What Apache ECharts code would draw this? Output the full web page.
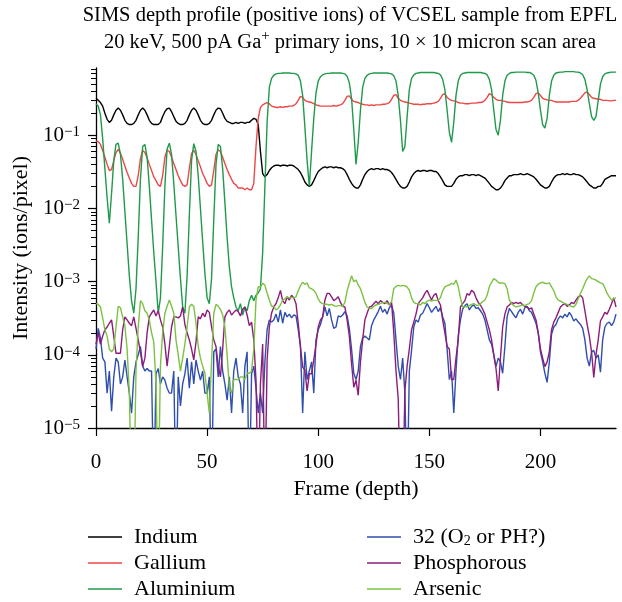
<!DOCTYPE html>
<html><head><meta charset="utf-8">
<script src="https://cdn.jsdelivr.net/npm/echarts@6/dist/echarts.min.js"></script>
<style>html,body{margin:0;padding:0;background:#fff}#c{width:622px;height:602px}</style>
</head><body><div id="c"></div>
<script>
// ---- data (frame index = position in array, 0..234) ----
const indium = [
0.32,0.30,0.28,0.25,0.20,0.165,0.15,0.16,0.19,0.22,
0.235,0.22,0.19,0.16,0.145,0.14,0.14,0.145,0.16,0.19,
0.22,0.235,0.22,0.19,0.16,0.145,0.14,0.14,0.14,0.15,
0.18,0.21,0.23,0.235,0.21,0.18,0.155,0.145,0.14,0.14,
0.145,0.16,0.19,0.22,0.235,0.22,0.19,0.16,0.145,0.14,
0.14,0.145,0.16,0.19,0.22,0.235,0.23,0.20,0.17,0.155,
0.15,0.145,0.145,0.15,0.145,0.15,0.15,0.145,0.15,0.15,
0.16,0.17,0.165,0.14,0.06,0.03,0.027,0.029,0.033,0.036,
0.038,0.039,0.039,0.038,0.039,0.039,0.038,0.039,0.039,0.038,
0.036,0.034,0.031,0.027,0.023,0.021,0.020,0.021,0.024,0.028,
0.032,0.034,0.036,0.037,0.036,0.037,0.037,0.036,0.037,0.036,
0.036,0.035,0.033,0.029,0.025,0.022,0.020,0.019,0.019,0.021,
0.025,0.029,0.032,0.034,0.035,0.034,0.035,0.035,0.034,0.035,
0.034,0.034,0.033,0.031,0.028,0.025,0.022,0.020,0.019,0.019,
0.020,0.023,0.027,0.030,0.032,0.033,0.032,0.033,0.033,0.032,
0.033,0.033,0.032,0.032,0.030,0.027,0.024,0.021,0.020,0.020,
0.020,0.022,0.025,0.027,0.028,0.028,0.029,0.029,0.028,0.029,
0.029,0.028,0.029,0.028,0.027,0.026,0.024,0.022,0.020,0.019,
0.018,0.018,0.019,0.021,0.024,0.026,0.028,0.028,0.029,0.029,
0.029,0.030,0.029,0.029,0.030,0.029,0.028,0.027,0.025,0.023,
0.021,0.020,0.019,0.019,0.020,0.023,0.026,0.028,0.029,0.029,
0.030,0.029,0.030,0.029,0.029,0.030,0.029,0.029,0.028,0.027,
0.025,0.023,0.021,0.020,0.019,0.019,0.020,0.020,0.022,0.025,
0.026,0.027,0.028,0.028,0.028];

const gallium = [
0.083,0.082,0.075,0.062,0.05,0.04,0.033,0.034,0.045,0.058,
0.064,0.057,0.047,0.038,0.031,0.026,0.022,0.020,0.020,0.028,
0.048,0.062,0.058,0.049,0.040,0.033,0.027,0.024,0.021,0.020,
0.028,0.050,0.063,0.060,0.050,0.041,0.034,0.028,0.024,0.021,
0.020,0.021,0.035,0.056,0.062,0.055,0.045,0.037,0.030,0.026,
0.022,0.020,0.021,0.033,0.055,0.063,0.060,0.050,0.041,0.034,
0.029,0.025,0.022,0.021,0.019,0.019,0.019,0.018,0.019,0.018,
0.018,0.022,0.07,0.17,0.24,0.26,0.27,0.28,0.27,0.25,
0.245,0.24,0.24,0.245,0.24,0.245,0.245,0.25,0.25,0.255,
0.27,0.30,0.34,0.33,0.30,0.29,0.285,0.28,0.27,0.26,
0.255,0.25,0.25,0.25,0.25,0.25,0.25,0.255,0.25,0.255,
0.26,0.27,0.30,0.34,0.345,0.31,0.29,0.285,0.28,0.27,
0.265,0.26,0.26,0.255,0.26,0.255,0.26,0.26,0.26,0.265,
0.265,0.27,0.28,0.31,0.35,0.36,0.32,0.30,0.29,0.285,
0.28,0.275,0.27,0.265,0.265,0.265,0.26,0.265,0.265,0.27,
0.27,0.27,0.275,0.28,0.29,0.32,0.36,0.37,0.33,0.31,
0.30,0.295,0.29,0.28,0.275,0.275,0.27,0.27,0.27,0.275,
0.275,0.275,0.28,0.28,0.285,0.30,0.33,0.37,0.36,0.33,
0.31,0.30,0.30,0.295,0.29,0.285,0.28,0.28,0.28,0.28,
0.28,0.28,0.28,0.285,0.285,0.29,0.30,0.33,0.37,0.38,
0.35,0.32,0.31,0.305,0.30,0.30,0.29,0.285,0.285,0.285,
0.285,0.285,0.285,0.285,0.29,0.29,0.29,0.30,0.32,0.35,
0.38,0.39,0.36,0.33,0.32,0.315,0.31,0.31,0.30,0.30,
0.30,0.295,0.295,0.30,0.30];

const aluminium = [
0.27,0.25,0.19,0.09,0.035,0.014,0.0063,0.016,0.045,0.075,
0.078,0.055,0.025,0.009,0.0033,0.0012,5.5e-4,3.7e-4,8e-4,0.004,
0.025,0.07,0.075,0.05,0.02,0.007,0.0025,0.001,3.7e-4,6e-4,
0.003,0.02,0.065,0.078,0.055,0.022,0.008,0.003,0.0011,4.5e-4,
3.7e-4,0.0012,0.008,0.045,0.077,0.06,0.028,0.01,0.0035,0.0013,
6e-4,5e-4,0.0011,0.007,0.04,0.075,0.07,0.035,0.012,0.004,
0.0016,8.5e-4,6e-4,4.5e-4,4e-4,5e-4,3.5e-4,4.5e-4,4e-4,5.5e-4,
6.5e-4,5.5e-4,6.5e-4,7e-4,8e-4,0.0025,0.02,0.15,0.45,0.6,
0.66,0.69,0.70,0.70,0.71,0.71,0.71,0.71,0.70,0.70,
0.69,0.66,0.55,0.35,0.13,0.045,0.02,0.06,0.17,0.38,
0.55,0.63,0.67,0.69,0.70,0.70,0.71,0.71,0.71,0.71,
0.71,0.70,0.69,0.64,0.52,0.32,0.12,0.04,0.08,0.22,
0.45,0.60,0.66,0.69,0.70,0.71,0.71,0.71,0.71,0.71,
0.71,0.71,0.70,0.69,0.65,0.55,0.35,0.16,0.06,0.07,
0.18,0.42,0.6,0.67,0.70,0.71,0.72,0.72,0.72,0.72,
0.72,0.72,0.72,0.71,0.70,0.67,0.58,0.42,0.22,0.11,
0.08,0.15,0.35,0.55,0.66,0.70,0.71,0.72,0.72,0.72,
0.72,0.72,0.72,0.72,0.71,0.70,0.67,0.58,0.42,0.22,
0.12,0.10,0.16,0.35,0.55,0.66,0.70,0.72,0.72,0.73,
0.73,0.73,0.73,0.73,0.72,0.72,0.70,0.66,0.56,0.38,
0.22,0.14,0.125,0.17,0.35,0.55,0.66,0.71,0.72,0.73,
0.73,0.74,0.74,0.74,0.74,0.74,0.73,0.73,0.71,0.67,
0.58,0.42,0.27,0.18,0.16,0.18,0.3,0.5,0.63,0.69,
0.71,0.72,0.73,0.73,0.73];

const mass32 = [
1.2e-4,2.3e-4,1.7e-4,9e-5,8e-5,3e-5,6e-5,1.7e-5,5e-5,9e-5,
8e-5,4e-5,5e-5,8.5e-5,5e-5,3e-5,1.6e-5,5e-5,8e-5,1.0e-4,
1.3e-4,7e-5,6e-5,6.5e-5,6e-5,6e-5,1e-6,5.5e-5,6.5e-5,4e-5,
5e-5,4.5e-5,3.5e-5,3e-5,3e-5,6e-5,1e-6,5e-5,2e-5,4e-5,
5.5e-5,9e-5,3.5e-5,8e-5,4e-5,8.5e-5,6e-5,4.5e-5,6e-5,3e-5,
3e-5,5e-5,1e-6,1.1e-4,1.2e-4,5e-5,1.3e-4,6e-5,4e-5,2.4e-5,
5e-5,1.6e-5,6e-5,9e-5,5e-5,4e-5,1.6e-5,7e-5,1.1e-4,1e-6,
5.5e-5,7e-5,3.5e-5,1.6e-5,3e-5,1.6e-5,8e-5,2.2e-4,3e-4,2.8e-4,
3.0e-4,3.6e-4,2.8e-4,4.1e-4,2.7e-4,3.8e-4,3.3e-4,3.6e-4,3.2e-4,3.5e-4,
3.4e-4,2.2e-4,1.3e-4,1.6e-5,1.1e-4,4.6e-5,6e-5,8e-5,3e-5,1.6e-4,
2.2e-4,2.6e-4,3.3e-4,4.5e-4,3.4e-4,4.3e-4,3e-4,2.3e-4,2.4e-4,3.4e-4,
3.3e-4,3.5e-4,3.9e-4,3.4e-4,2.3e-4,1.2e-4,5.6e-5,4.6e-5,6e-5,1.3e-4,
1.7e-4,1.8e-4,1.7e-4,1.6e-4,2.5e-4,3.0e-4,3.4e-4,3.9e-4,4.6e-4,3.8e-4,
4.2e-4,3.6e-4,4.4e-4,4.8e-4,3.7e-4,1.6e-4,7e-5,4.6e-5,9e-5,3e-5,
1e-6,6e-5,1.15e-4,2.4e-4,3e-4,2.8e-4,3.5e-4,3.7e-4,4.3e-4,5e-4,
4.4e-4,3.8e-4,4.2e-4,4.6e-4,3.9e-4,4.4e-4,3.3e-4,2.7e-4,1.2e-4,4.6e-5,
6e-5,1.6e-5,6e-5,1.8e-4,3e-4,4.2e-4,4.7e-4,5e-4,4.1e-4,4.6e-4,
4.8e-4,4.3e-4,4.4e-4,4.0e-4,3.6e-4,3e-4,2.2e-4,1.6e-4,1.4e-4,1e-4,
6.9e-5,9e-5,8e-5,5.6e-5,1.3e-4,3.3e-4,4.3e-4,3.9e-4,3.5e-4,3.2e-4,
3.8e-4,4.2e-4,3.6e-4,4.4e-4,4.6e-4,4.0e-4,3.8e-4,3.2e-4,2.7e-4,2.0e-4,
1.1e-4,8e-5,5.6e-5,4.2e-5,8e-5,1.9e-4,2.4e-4,2.6e-4,3.1e-4,3.4e-4,
3.2e-4,3.6e-4,3.3e-4,3.8e-4,3.4e-4,2.9e-4,3.1e-4,2.8e-4,2.6e-4,2.3e-4,
1.6e-4,9e-5,7e-5,1.1e-4,1.15e-4,9e-5,1.0e-4,5.8e-5,1.6e-4,2.4e-4,
2.7e-4,2.8e-4,2.5e-4,2.8e-4,3.6e-4];

const phosphorous = [
1.4e-4,2.0e-4,1.4e-4,1.8e-4,2.2e-4,2.4e-4,2.7e-4,3.0e-4,1.8e-4,1.05e-4,
1.05e-4,1.05e-4,2.2e-4,3.3e-4,3.0e-4,2.7e-4,2.5e-4,3.3e-4,2.3e-4,1.6e-4,
1.1e-4,6.9e-5,9e-5,2.0e-4,3.3e-4,3.7e-4,4.1e-4,3.4e-4,4.0e-4,3.0e-4,
2.4e-4,1.4e-4,7e-5,1.3e-4,2.4e-4,3.3e-4,3.3e-4,3.2e-4,3.4e-4,4.5e-4,
2.6e-4,2.0e-4,1.6e-4,1.2e-4,8.5e-5,1.5e-4,3.3e-4,3.1e-4,3.7e-4,3.3e-4,
4.1e-4,3.8e-4,2.4e-4,1.6e-4,1.3e-4,7e-5,5e-5,1.2e-4,3.3e-4,3.8e-4,
4.1e-4,3.5e-4,3.8e-4,4.1e-4,3.9e-4,3.4e-4,4.2e-4,4.5e-4,3.5e-4,2.5e-4,
2.8e-4,1.6e-4,4.5e-5,1e-6,4e-5,1.4e-4,1e-6,8.5e-5,2.4e-4,3.7e-4,
4.5e-4,5e-4,6e-4,7.6e-4,5.5e-4,5e-4,6.2e-4,5.6e-4,6.5e-4,6.0e-4,
5e-4,2.7e-4,1.3e-4,6.8e-5,6.2e-5,3.2e-5,5.5e-5,5.5e-5,8.5e-5,1.4e-4,
2.4e-4,3.0e-4,3.3e-4,5.6e-4,6.9e-4,6.9e-4,6.2e-4,5.5e-4,5.8e-4,6.2e-4,
5.2e-4,4.6e-4,4.5e-4,3.0e-4,1.8e-4,7.6e-5,3.6e-5,4.5e-5,2.8e-5,8e-5,
1.6e-4,3.0e-4,3.7e-4,4.5e-4,4.6e-4,5.0e-4,5.4e-4,5.0e-4,5.5e-4,5.2e-4,
5.0e-4,5.5e-4,4.8e-4,5.2e-4,2.0e-4,6e-5,2.5e-5,1e-6,1e-6,3.2e-5,
7e-5,1.2e-4,2.2e-4,2.8e-4,3.6e-4,5e-4,5.5e-4,6e-4,6.9e-4,7.6e-4,
6.5e-4,5.6e-4,6.5e-4,6.9e-4,5.5e-4,4.8e-4,3.0e-4,2.0e-4,1.3e-4,1.2e-4,
4.6e-5,4.6e-5,9e-5,1.6e-4,4.5e-4,5e-4,5.5e-4,6.9e-4,6.5e-4,7.6e-4,
7.2e-4,6e-4,5.2e-4,4.8e-4,4.2e-4,3.6e-4,2.8e-4,2.2e-4,1.6e-4,1.0e-4,
6.5e-5,3.2e-5,9e-5,2.4e-4,3.6e-4,4.5e-4,4.8e-4,5.2e-4,5e-4,5.2e-4,
5e-4,5.2e-4,4.8e-4,4.6e-4,4.5e-4,4.2e-4,4.4e-4,3.6e-4,3.0e-4,2.0e-4,
1.2e-4,9e-5,6.9e-5,8e-5,1.1e-4,2.2e-4,2.8e-4,3.2e-4,3.8e-4,4.5e-4,
4.8e-4,5.0e-4,4.6e-4,4.8e-4,5.2e-4,5.0e-4,5.6e-4,6.2e-4,6.5e-4,6.0e-4,
4e-4,2.6e-4,1.8e-4,1.1e-4,4.9e-5,1.0e-4,1.6e-4,2.9e-4,3.3e-4,3.8e-4,
3.6e-4,4.2e-4,5e-4,6e-4,4.5e-4];

const arsenic = [
5e-4,4.9e-4,4.5e-4,3.2e-4,2.2e-4,1.8e-4,1.2e-4,1.1e-4,1.2e-4,2.4e-4,
4.6e-4,4.4e-4,3.3e-4,2.5e-4,1.2e-4,3e-5,1e-6,1e-6,6e-5,2.4e-4,
5.5e-4,5e-4,4e-4,3.7e-4,3e-4,2e-4,1.5e-4,4e-5,1e-6,7e-5,
2.0e-4,3.7e-4,4.6e-4,5.6e-4,4.6e-4,3.7e-4,1.6e-4,1.0e-4,6e-5,9e-5,
1.4e-4,2.4e-4,4.5e-4,4.9e-4,4.6e-4,2.7e-4,1.3e-4,9e-5,7e-5,5.6e-5,
3e-5,1.6e-5,8e-5,3.7e-4,4.9e-4,4.6e-4,4.2e-4,3.5e-4,2.4e-4,1.0e-4,
3.6e-5,3e-5,4.6e-5,4.6e-5,4.6e-5,5e-5,5e-5,4.6e-5,5.6e-5,5.6e-5,
6e-5,1.2e-4,5.6e-4,8.5e-4,8.5e-4,9.5e-4,8.9e-4,7e-4,5.6e-4,4.6e-4,
4.6e-4,4.1e-4,4.3e-4,4.8e-4,5.6e-4,5.8e-4,6.2e-4,6.0e-4,6.1e-4,6.0e-4,
6.2e-4,7.5e-4,8.8e-4,9.8e-4,9.2e-4,9.6e-4,8.2e-4,8.0e-4,7.6e-4,6.9e-4,
5.8e-4,5.2e-4,5.0e-4,4.9e-4,4.9e-4,4.8e-4,4.9e-4,4.7e-4,4.6e-4,4.7e-4,
4.7e-4,4.6e-4,5.2e-4,7.5e-4,9.5e-4,1.2e-3,1.0e-3,1.05e-3,9e-4,8e-4,
6.5e-4,5.2e-4,4.5e-4,4.3e-4,4.3e-4,4.6e-4,4.8e-4,4.9e-4,5e-4,5.2e-4,
5.2e-4,5.0e-4,4.9e-4,5.3e-4,8.0e-4,8.6e-4,8.9e-4,8.7e-4,8.9e-4,8.8e-4,
8.4e-4,7.7e-4,6.0e-4,5.2e-4,5.0e-4,5.0e-4,4.8e-4,5.2e-4,5.0e-4,5.4e-4,
5.6e-4,5.4e-4,5.6e-4,5.5e-4,5.6e-4,6.0e-4,7.5e-4,8.5e-4,8.8e-4,9.0e-4,
9.5e-4,9.2e-4,1.05e-3,8.5e-4,6e-4,4.5e-4,4.6e-4,4.5e-4,4.7e-4,4.9e-4,
5.0e-4,4.8e-4,4.7e-4,5.0e-4,5.3e-4,5.6e-4,6.5e-4,8.5e-4,9.8e-4,1.1e-3,
1.05e-3,9.8e-4,9.5e-4,9.6e-4,9.4e-4,8e-4,5.6e-4,5.0e-4,4.7e-4,4.5e-4,
4.6e-4,4.7e-4,4.8e-4,4.7e-4,4.9e-4,5.0e-4,5.5e-4,7e-4,8.5e-4,9.2e-4,
9.6e-4,9.8e-4,9.5e-4,9.4e-4,9.6e-4,8.5e-4,7.5e-4,6.2e-4,5.6e-4,5.4e-4,
5.2e-4,5.0e-4,4.9e-4,4.7e-4,4.6e-4,4.5e-4,4.9e-4,5.8e-4,6.9e-4,8e-4,
9.5e-4,1.1e-3,1.2e-3,1.1e-3,1.08e-3,1.05e-3,1.0e-3,9.6e-4,9.4e-4,8.2e-4,
6.9e-4,6.2e-4,5.6e-4,5.8e-4,6.0e-4];

const seriesNames = ['Indium','Gallium','Aluminium','32 (O2 or PH?)','Phosphorous','Arsenic'];
const seriesValues = [indium, gallium, aluminium, mass32, phosphorous, arsenic];
const seriesColors = ['#000000','#ef4646','#1f9a4a','#2f4fae','#8c1c7a','#7cc242'];
const xTickValues = [0,50,100,150,200];
const yDecadeExponents = [-5,-4,-3,-2,-1];
const yMinorMantissas = [2,3,4,5,6,7,8,9];
const xMax = 234, yMin = 1e-5, yMax = 0.83;

// ---- chart ----
const F = 'Liberation Serif';
const yTop = Math.log10(yMax);
const minorExps = [];
yDecadeExponents.forEach(e => yMinorMantissas.forEach(m => {
  const v = Math.log10(m) + e; if (v <= yTop) minorExps.push(v);
}));

const chart = echarts.init(document.getElementById('c'), null, {renderer:'canvas'});
const option = {
  animation: false,
  backgroundColor: '#fff',
  title: {
    text: 'SIMS depth profile (positive ions) of VCSEL sample from EPFL\n20 keV, 500 pA Ga{sup|+} primary ions, 10 × 10 micron scan area',
    left: 350, top: 0, textAlign: 'center', padding: [2, 0, 0, 0],
    textStyle: {fontFamily: F, fontSize: 20.5, fontWeight: 'normal', color: '#000', lineHeight: 27,
      rich: {sup: {fontFamily: F, fontSize: 15, lineHeight: 14, verticalAlign: 'top', color: '#000'}}}
  },
  grid: {left: 96, right: 6, top: 68, bottom: 174, containLabel: false},
  xAxis: {
    type: 'value', min: 0, max: xMax,
    axisLine: {onZero: false, lineStyle: {color: '#000', width: 1.3}},
    axisTick: {customValues: xTickValues, length: 8, lineStyle: {color: '#000', width: 1.2}},
    axisLabel: {customValues: xTickValues, margin: 24, fontFamily: F, fontSize: 21, color: '#000'},
    splitLine: {show: false},
    name: 'Frame (depth)', nameLocation: 'middle', nameGap: 50,
    nameTextStyle: {fontFamily: F, fontSize: 22, color: '#000'}
  },
  yAxis: [
    {type: 'log', logBase: 10, min: yMin, max: yMax, show: false, splitLine: {show: false}},
    {
      type: 'value', position: 'left', min: -5, max: yTop,
      axisLine: {show: true, onZero: false, lineStyle: {color: '#000', width: 1.3}},
      axisTick: {customValues: yDecadeExponents, length: 8, lineStyle: {color: '#000', width: 1.2}},
      axisLabel: {customValues: yDecadeExponents, margin: 16, fontFamily: F, fontSize: 21, color: '#000',
        formatter: v => '10{sup|−' + Math.round(-v) + '}',
        rich: {sup: {fontFamily: F, fontSize: 15, lineHeight: 14, verticalAlign: 'top', color: '#000'}}},
      splitLine: {show: false},
      name: 'Intensity (ions/pixel)', nameLocation: 'middle', nameGap: 64, nameRotate: 90,
      nameTextStyle: {fontFamily: F, fontSize: 22, color: '#000'}
    },
    {
      type: 'value', position: 'left', min: -5, max: yTop,
      axisLine: {show: false, onZero: false},
      axisTick: {customValues: minorExps, length: 5, lineStyle: {color: '#000', width: 1}},
      axisLabel: {show: false}, splitLine: {show: false}
    }
  ],
  legend: [0, 1].map(col => ({
    data: seriesNames.slice(col * 3, col * 3 + 3),
    orient: 'vertical', left: col ? 367 : 88, top: 526, padding: 0,
    icon: 'rect', itemWidth: 34, itemHeight: 1.6, itemGap: 4,
    formatter: n => n.replace('O2', 'O{sub|2}'),
    textStyle: {fontFamily: F, fontSize: 22, color: '#000', lineHeight: 22, padding: [0, 0, 0, 7],
      rich: {sub: {fontFamily: F, fontSize: 14, lineHeight: 12, verticalAlign: 'bottom', color: '#000'}}}
  })),
  series: seriesNames.map((name, k) => ({
    name, type: 'line', xAxisIndex: 0, yAxisIndex: 0,
    showSymbol: false, symbol: 'none', clip: true,
    color: seriesColors[k],
    lineStyle: {color: seriesColors[k], width: 1.4},
    data: seriesValues[k].map((v, i) => [i, v])
  }))
};
chart.setOption(option);
</script>
</body></html>
